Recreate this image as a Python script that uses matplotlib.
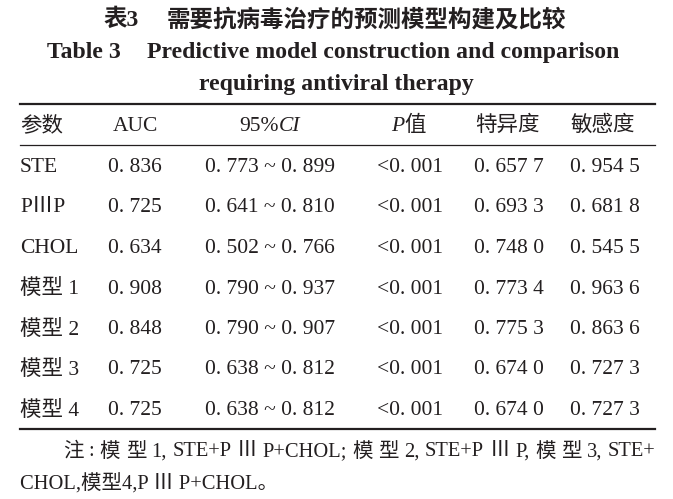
#!/usr/bin/env python3
# -*- coding: utf-8 -*-

"""
Table 3 redrawn as a figure: predictive model construction and comparison
(requiring antiviral therapy).
"""

import matplotlib
matplotlib.use("Agg")
import matplotlib.pyplot as plt

# ===============================
# Data
# ===============================

params = ["STE", "PⅢP", "CHOL", "模型 1", "模型 2", "模型 3", "模型 4"]
auc = [0.836, 0.725, 0.634, 0.908, 0.848, 0.725, 0.725]
ci_low = [0.773, 0.641, 0.502, 0.790, 0.790, 0.638, 0.638]
ci_high = [0.899, 0.810, 0.766, 0.937, 0.907, 0.812, 0.812]
p_vals = ["<0. 001"] * 7
specificity = [0.6577, 0.6933, 0.7480, 0.7734, 0.7753, 0.6740, 0.6740]
sensitivity = [0.9545, 0.6818, 0.5455, 0.9636, 0.8636, 0.7273, 0.7273]

title_cn = ["表3", "需要抗病毒治疗的预测模型构建及比较"]
title_en = ["Table 3", "Predictive model construction and comparison",
            "requiring antiviral therapy"]
# first note line is justified, so keep it as tokens
note_tokens = ["注", ":", "模", "型", "1,", "STE+P", "Ⅲ", "P+CHOL;", "模", "型", "2,",
               "STE+P", "Ⅲ", "P,", "模", "型", "3,", "STE+"]
note_line2 = "CHOL,模型4,P Ⅲ P+CHOL。"

# ===============================
# Helpers
# ===============================

W, H = 673, 499
FAM = ["Liberation Serif", "Noto Sans CJK SC"]
INK = "#231f20"


def px(size_px):
    # font size given in pixels -> points at dpi 100
    return size_px * 72 / 100


def fmt3(v):
    s = "%.3f" % v
    return s[:2] + " " + s[2:]


def fmt4(v):
    s = "%.4f" % v
    return s[:2] + " " + s[2:5] + " " + s[5:]


def put(x, y, s, size, ha="left", **kw):
    return ax.text(x, y, s, ha=ha, va="center", fontsize=px(size),
                   family=FAM, color=INK, **kw)


# ===============================
# Plot
# ===============================

fig = plt.figure(figsize=(W / 100, H / 100), dpi=100)
ax = fig.add_axes([0, 0, 1, 1])
ax.set_xlim(0, W)
ax.set_ylim(H, 0)
ax.axis("off")

# titles
put(103, 20, title_cn[0], 23.5, fontweight="bold")
put(167, 20, title_cn[1], 23.5, fontweight="bold")
put(47, 52, title_en[0], 23.7, fontweight="bold")
put(147, 52, title_en[1], 23.7, fontweight="bold")
put(W / 2, 84, title_en[2], 23.7, ha="center", fontweight="bold")

# rules
ax.plot([20, 655], [104, 104], color=INK, lw=1.6)
ax.plot([20, 655], [145, 145], color=INK, lw=0.9)
ax.plot([20, 655], [429, 429], color=INK, lw=1.6)

fs = 21.5
col_x = [20, 135, 270, 410, 509, 605]

# header
hy = 126
put(col_x[0], hy, "参数", fs)
put(col_x[1], hy, "AUC", fs, ha="center")
put(279, hy, "95%", fs, ha="right")
put(279, hy, "CI", fs, style="italic")
put(404, hy, "P", fs, ha="right", style="italic")
put(404, hy, "值", fs)
put(507, hy, "特异度", fs, ha="center")
put(603, hy, "敏感度", fs, ha="center")

# body
row_y0, row_dy = 167.5, 40.5
for i in range(len(params)):
    y = row_y0 + i * row_dy
    cells = [params[i], fmt3(auc[i]),
             fmt3(ci_low[i]) + " ~ " + fmt3(ci_high[i]),
             p_vals[i], fmt4(specificity[i]), fmt4(sensitivity[i])]
    put(col_x[0], y, cells[0], fs)
    for j in range(1, 6):
        put(col_x[j], y, cells[j], fs, ha="center")

# note, first line justified between x0 and x1
nfs = 20.5
x0, x1, ny = 63, 655, 452
renderer = fig.canvas.get_renderer()
texts = [put(0, ny, tok, nfs) for tok in note_tokens]
widths = [t.get_window_extent(renderer=renderer).width for t in texts]
gap = (x1 - x0 - sum(widths)) / (len(texts) - 1)
x = x0
for t, w in zip(texts, widths):
    t.set_x(x)
    x += w + gap
put(20, 484, note_line2, nfs)

fig.savefig("out.png", dpi=100)
